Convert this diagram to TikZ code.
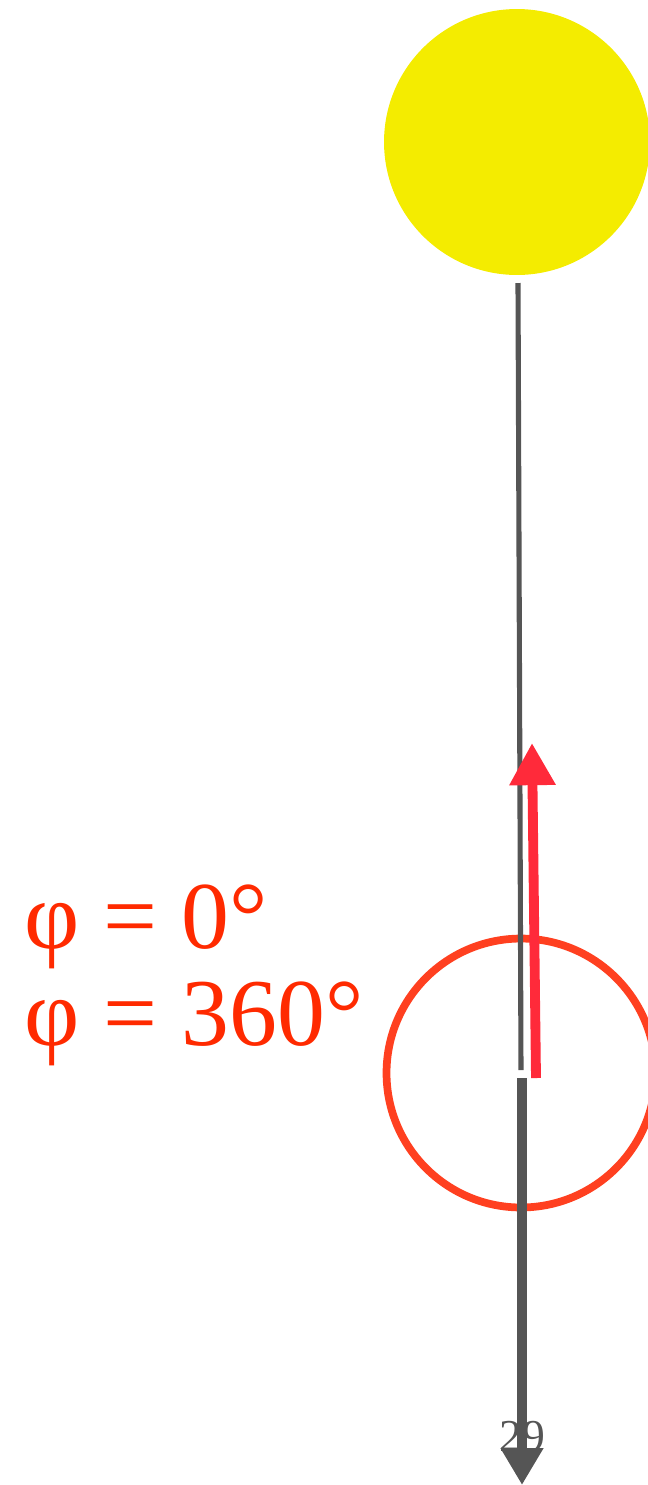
\documentclass[tikz,border=0pt]{standalone}
\usepackage{fontspec}
\setmainfont{Liberation Serif}
\usetikzlibrary{arrows.meta,positioning}
\definecolor{Sun}{HTML}{F4EC00}
\definecolor{Rod}{HTML}{555555}
\definecolor{Orbit}{HTML}{FF4020}
\definecolor{Vec}{HTML}{FF2A3A}
\definecolor{Label}{HTML}{FF2A00}
\tikzset{
  sun/.style={circle, fill=Sun, inner sep=0pt, minimum size=5.32cm},
  orbit/.style={circle, draw=Orbit, line width=4.4pt, inner sep=0pt, minimum size=5.38cm},
  rod/.style={draw=Rod, line width=2.9pt},
  axis/.style={-{Triangle[length=21pt, width=23pt]}, draw=Rod, fill=Rod, line width=6pt},
  vec/.style={-{Triangle[length=24pt, width=25pt]}, draw=Vec, fill=Vec, line width=5.6pt},
  angle/.style={text=Label, font=\fontsize{54.5}{55}\selectfont, anchor=base west, inner sep=0pt}
}
\begin{document}
\begin{tikzpicture}[x=0.02cm, y=-0.02cm]
  \useasboundingbox (0,0) rectangle (648,1485);
  \node[sun] (sun) at (517,142) {};
  \node[orbit] (ring) at (521,1073) {};
  \coordinate (rodtop) at (518,283);
  \coordinate (rodend) at (521,1070);
  \coordinate (axstart) at (522,1078);
  \coordinate (axtip) at (522,1485);
  \coordinate (vstart) at (536,1078);
  \coordinate (vtip) at (532,743);
  \draw[rod] (rodtop) -- (rodend);
  \node[text=Rod, font=\fontsize{26}{26}\selectfont, inner sep=0pt] (num) at (522,1437) {29};
  \draw[axis] (axstart) -- (axtip);
  \draw[vec] (vstart) -- (vtip);
  \node[angle] (phizero) at (24,948) {φ = 0°};
  \node[angle] (phifull) at (24,1045) {φ = 360°};
\end{tikzpicture}
\end{document}
